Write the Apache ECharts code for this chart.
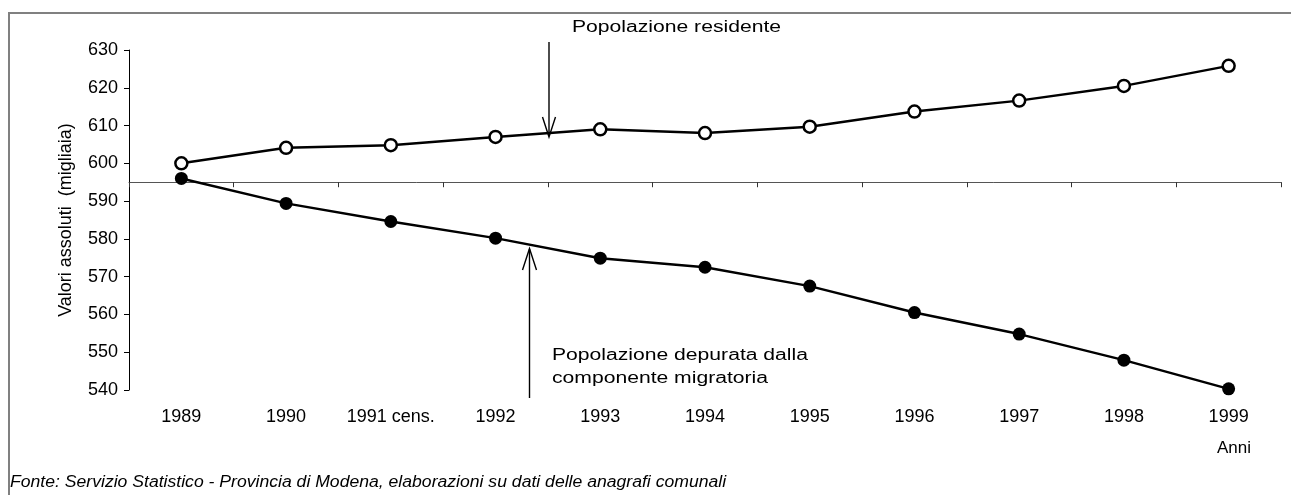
<!DOCTYPE html>
<html>
<head>
<meta charset="utf-8">
<script src="https://cdn.jsdelivr.net/npm/echarts@6/dist/echarts.min.js"></script>
<style>
  html, body { margin: 0; padding: 0; background: #fff; }
  #chart { width: 1291px; height: 495px; }
</style>
</head>
<body>
<div id="chart"></div>
<script>
// dati (migliaia di abitanti)
const anni = ['1989', '1990', '1991 cens.', '1992', '1993', '1994', '1995', '1996', '1997', '1998', '1999'];
const residente = [600.0, 604.1, 604.8, 607.0, 609.0, 608.0, 609.7, 613.7, 616.6, 620.5, 625.8];
const depurata = [596.0, 589.4, 584.6, 580.2, 574.9, 572.5, 567.5, 560.5, 554.8, 547.9, 540.3];
const yMin = 540;
const yMax = 630;
const yStep = 10;
const xCross = 595; // dove l'asse orizzontale taglia l'asse y

const FONT = '"Liberation Sans", Arial, sans-serif';
const gridTop = 50, gridBottom = 105, gridLeft = 129, gridRight = 10;
const gridH = 495 - gridTop - gridBottom;
const crossOffset = -(xCross - yMin) / (yMax - yMin) * gridH;

const chart = echarts.init(document.getElementById('chart'));

const option = {
    animation: false,
    backgroundColor: '#fff',
    grid: {
        left: gridLeft,
        right: gridRight,
        top: gridTop,
        bottom: gridBottom,
        containLabel: false,
        outerBoundsMode: 'none'
    },
    xAxis: [
        {
            // asse con linea e tacche, all'altezza di 595
            type: 'category',
            data: anni,
            boundaryGap: true,
            position: 'bottom',
            offset: crossOffset,
            axisLine: { show: true, lineStyle: { color: '#555', width: 1 } },
            axisTick: { show: true, interval: 0, length: 5, lineStyle: { color: '#333' } },
            axisLabel: { show: false },
            splitLine: { show: false }
        },
        {
            // solo le etichette degli anni, in basso
            type: 'category',
            data: anni,
            boundaryGap: true,
            position: 'bottom',
            axisLine: { show: false },
            axisTick: { show: false },
            axisLabel: { interval: 0, margin: 18, color: '#000', fontFamily: FONT, fontSize: 18 },
            splitLine: { show: false }
        }
    ],
    yAxis: {
        type: 'value',
        min: yMin,
        max: yMax,
        interval: yStep,
        name: 'Valori assoluti  (migliaia)',
        nameLocation: 'middle',
        nameGap: 54,
        nameTextStyle: { color: '#000', fontFamily: FONT, fontSize: 18 },
        axisLine: { show: true, lineStyle: { color: '#000', width: 1 } },
        axisTick: { show: true, length: 5, lineStyle: { color: '#000' } },
        axisLabel: { margin: 11, color: '#000', fontFamily: FONT, fontSize: 18 },
        splitLine: { show: false }
    },
    series: [
        {
            name: 'Popolazione residente',
            type: 'line',
            xAxisIndex: 0,
            data: residente,
            symbol: 'circle',
            symbolSize: 12,
            lineStyle: { color: '#000', width: 2.5 },
            itemStyle: { color: '#fff', borderColor: '#000', borderWidth: 2.5 },
            z: 3
        },
        {
            name: 'Popolazione depurata dalla componente migratoria',
            type: 'line',
            xAxisIndex: 0,
            data: depurata,
            symbol: 'circle',
            symbolSize: 13,
            lineStyle: { color: '#000', width: 2.5 },
            itemStyle: { color: '#000' },
            z: 3
        }
    ],
    graphic: [
        {
            type: 'rect',
            shape: { x: 9, y: 13, width: 1400, height: 600 },
            style: { fill: 'none', stroke: '#808080', lineWidth: 2 },
            silent: true
        },
        {
            type: 'text',
            x: 572, y: 28,
            scaleX: 1.32,
            style: { text: 'Popolazione residente', fill: '#000', font: '16px ' + FONT, verticalAlign: 'middle' }
        },
        {
            type: 'polyline',
            shape: { points: [[549, 42], [549, 136]] },
            style: { stroke: '#000', lineWidth: 1.4 }
        },
        {
            type: 'polyline',
            shape: { points: [[542.5, 117], [549, 137], [555.5, 117]] },
            style: { stroke: '#000', lineWidth: 1.4, fill: 'none' }
        },
        {
            type: 'text',
            x: 552, y: 344,
            scaleX: 1.32,
            style: {
                text: 'Popolazione depurata dalla\ncomponente migratoria',
                fill: '#000', font: '16px ' + FONT, lineHeight: 23
            }
        },
        {
            type: 'polyline',
            shape: { points: [[529.5, 398], [529.5, 249]] },
            style: { stroke: '#000', lineWidth: 1.4 }
        },
        {
            type: 'polyline',
            shape: { points: [[522.5, 270], [529.5, 248.5], [536.5, 270]] },
            style: { stroke: '#000', lineWidth: 1.4, fill: 'none' }
        },
        {
            type: 'text',
            x: 1217, y: 448,
            style: { text: 'Anni', fill: '#000', font: '17px ' + FONT, verticalAlign: 'middle' }
        },
        {
            type: 'text',
            x: 10, y: 483,
            scaleX: 1.1,
            style: {
                text: 'Fonte: Servizio Statistico - Provincia di Modena, elaborazioni su dati delle anagrafi comunali',
                fill: '#000', font: 'italic 16px ' + FONT, verticalAlign: 'middle'
            }
        }
    ]
};

chart.setOption(option);
</script>
</body>
</html>
